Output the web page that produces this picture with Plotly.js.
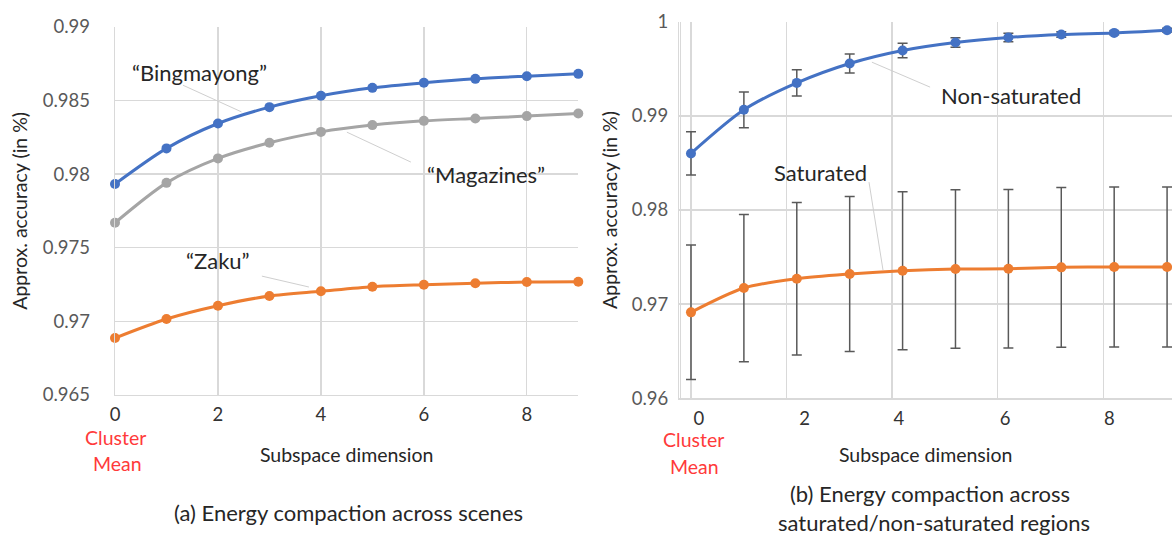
<!DOCTYPE html>
<html>
<head>
<meta charset="utf-8">
<script src="https://cdn.plot.ly/plotly-3.0.1.min.js"></script>
<style>
  html, body { margin: 0; padding: 0; background: #ffffff; }
  #chart { width: 1172px; height: 535px; }
</style>
</head>
<body>
<div id="chart"></div>
<script>
// ---------- data ----------
const subspaceDims = [0, 1, 2, 3, 4, 5, 6, 7, 8, 9];

// (a) energy compaction across scenes
const bingmayong = [0.97932, 0.98174, 0.98343, 0.98454, 0.98531, 0.98585, 0.98619, 0.98646, 0.98664, 0.98680];
const magazines  = [0.97669, 0.97940, 0.98106, 0.98212, 0.98286, 0.98332, 0.98361, 0.98377, 0.98393, 0.98411];
const zaku       = [0.96887, 0.97016, 0.97106, 0.97172, 0.97204, 0.97235, 0.97248, 0.97258, 0.97267, 0.97269];

// (b) energy compaction across saturated / non-saturated regions
const nonSaturated    = [0.98601, 0.99064, 0.99350, 0.99556, 0.99694, 0.99779, 0.99832, 0.99864, 0.99881, 0.99910];
const nonSaturatedErr = [0.00230, 0.00190, 0.00140, 0.00100, 0.00078, 0.00050, 0.00045, 0.00030, 0.00020, 0.00020];
const saturated       = [0.96913, 0.97171, 0.97270, 0.97320, 0.97355, 0.97373, 0.97376, 0.97391, 0.97394, 0.97394];
const saturatedErr    = [0.00714, 0.00782, 0.00810, 0.00824, 0.00840, 0.00842, 0.00842, 0.00849, 0.00849, 0.00849];

// tick labels
const leftYTickVals  = [0.965, 0.97, 0.975, 0.98, 0.985, 0.99];
const leftYTickText  = ['0.965', '0.97', '0.975', '0.98', '0.985', '0.99'];
const rightYTickVals = [0.96, 0.97, 0.98, 0.99, 1];
const rightYTickText = ['0.96', '0.97', '0.98', '0.99', '1'];
const xTickText      = ['0', '2', '4', '6', '8'];

// ---------- style ----------
const FONT = 'Lato, "Noto Sans", sans-serif';
const BLUE = '#4472C4', GRAY = '#A5A5A5', ORANGE = '#ED7D31';
const GRID = '#d9d9d9';
const TICKCOL = '#595959';
const TEXTCOL = '#262626';
const RED = '#ff3a3a';
const LEADER = '#cfcfcf';

function lineTrace(y, color, name, xa, ya, err) {
  const t = {
    x: subspaceDims, y: y, name: name, xaxis: xa, yaxis: ya,
    type: 'scatter', mode: 'lines+markers',
    line: { color: color, width: 3, shape: 'spline', smoothing: 0.8 },
    marker: { color: color, size: 10 },
    cliponaxis: false, showlegend: false
  };
  if (err) {
    t.error_y = { type: 'data', array: err, visible: true, color: '#595959', thickness: 1.5, width: 5 };
  }
  return t;
}

const data = [
  lineTrace(magazines, GRAY, '“Magazines”', 'x', 'y'),
  lineTrace(zaku, ORANGE, '“Zaku”', 'x', 'y'),
  lineTrace(bingmayong, BLUE, '“Bingmayong”', 'x', 'y'),
  lineTrace(saturated, ORANGE, 'Saturated', 'x2', 'y2', saturatedErr),
  lineTrace(nonSaturated, BLUE, 'Non-saturated', 'x2', 'y2', nonSaturatedErr)
];

const W = 1172, H = 535, MT = 21, MB = 136;
const PH = H - MT - MB;
const px = v => v / W;
const py = v => (H - MB - v) / PH;

const tickFont = { family: FONT, size: 18.5, color: TICKCOL };
const xTickFont = { family: FONT, size: 18.5, color: '#333333' };
const titleFont = { family: FONT, size: 19.5, color: TEXTCOL };
const labelFont = { family: FONT, size: 22, color: TEXTCOL };
const redFont = { family: FONT, size: 19.5, color: RED };
const capFont = { family: FONT, size: 22, color: TEXTCOL };

function txt(x, y, text, font) {
  return { xref: 'paper', yref: 'paper', x: px(x), y: py(y), xanchor: 'center', yanchor: 'middle',
           text: text, showarrow: false, font: font, borderpad: 0 };
}
function dataTxt(xr, yr, x, y, text) {
  return { xref: xr, yref: yr, x: x, y: y, xanchor: 'center', yanchor: 'middle',
           text: text, showarrow: false, font: labelFont };
}
function leader(xr, yr, x0, y0, x1, y1) {
  return { type: 'line', xref: xr, yref: yr, x0: x0, y0: y0, x1: x1, y1: y1, line: { color: LEADER, width: 1 } };
}

const layout = {
  width: W, height: H,
  margin: { l: 0, r: 0, t: MT, b: MB },
  paper_bgcolor: '#ffffff', plot_bgcolor: '#ffffff',
  font: { family: FONT, color: TEXTCOL },
  showlegend: false,
  xaxis: {
    domain: [px(115), px(578.3)], anchor: 'y',
    range: [0, 9], tick0: 0, dtick: 2,
    showgrid: true, gridcolor: GRID, gridwidth: 1.3,
    zeroline: false, showline: true, linecolor: GRID, linewidth: 1.3,
    ticks: '', tickfont: xTickFont, ticklabelstandoff: 2,
    title: { text: 'Subspace dimension', font: titleFont, standoff: 24 }
  },
  yaxis: {
    domain: [py(395), py(26.7)], anchor: 'x',
    range: [0.965, 0.99], tickvals: leftYTickVals, ticktext: leftYTickText,
    showgrid: true, gridcolor: GRID, gridwidth: 1.3,
    zeroline: false, showline: true, linecolor: GRID, linewidth: 1.3,
    ticks: '', tickfont: tickFont, ticklabelstandoff: 20,
    title: { text: 'Approx. accuracy (in %)', font: titleFont, standoff: 10 }
  },
  xaxis2: {
    domain: [px(679.3), 1], anchor: 'y2',
    range: [-0.221, 9.093],
    tickmode: 'array', tickvals: [0.15, 2.15, 3.93, 5.94, 7.91], ticktext: xTickText,
    showgrid: false,
    minor: { tickmode: 'linear', tick0: -0.2, dtick: 2, showgrid: true, gridcolor: GRID, gridwidth: 1.3, ticks: '' },
    zeroline: true, zerolinecolor: GRID, zerolinewidth: 1.3,
    showline: true, linecolor: GRID, linewidth: 1.3,
    ticks: '', tickfont: xTickFont, ticklabelstandoff: 3,
    title: { text: 'Subspace dimension', font: titleFont, standoff: 20 }
  },
  yaxis2: {
    domain: [py(398.3), py(21.7)], anchor: 'x2',
    range: [0.96, 1.0], tickvals: rightYTickVals, ticktext: rightYTickText,
    showgrid: true, gridcolor: GRID, gridwidth: 1.3,
    zeroline: false, showline: true, linecolor: GRID, linewidth: 1.3,
    ticks: '', tickfont: tickFont, ticklabelstandoff: 6,
    title: { text: 'Approx. accuracy (in %)', font: titleFont, standoff: 9 }
  },
  shapes: [
    leader('x', 'y', 1.32, 0.98603, 2.456, 0.98422),
    leader('x', 'y', 4.505, 0.98284, 5.748, 0.98081),
    leader('x', 'y', 2.854, 0.97307, 3.767, 0.97233),
    leader('x2', 'y2', 3.42, 0.9957, 4.52, 0.99305),
    leader('x2', 'y2', 3.365, 0.98296, 3.63, 0.97362)
  ],
  annotations: [
    dataTxt('x', 'y', 1.65, 0.98691, '“Bingmayong”'),
    dataTxt('x', 'y', 7.20, 0.97999, '“Magazines”'),
    dataTxt('x', 'y', 2.0, 0.97416, '“Zaku”'),
    dataTxt('x2', 'y2', 6.05, 0.9922, 'Non-saturated'),
    dataTxt('x2', 'y2', 2.457, 0.98402, 'Saturated'),

    txt(115, 437, 'Cluster', redFont),
    txt(117, 463, 'Mean', redFont),
    txt(693, 440, 'Cluster', redFont),
    txt(694, 466, 'Mean', redFont),

    txt(348, 512, '(a) Energy compaction across scenes', capFont),
    txt(930, 493, '(b) Energy compaction across', capFont),
    txt(934, 522, 'saturated/non-saturated regions', capFont)
  ]
};

Plotly.newPlot('chart', data, layout, { displayModeBar: false, staticPlot: true });
</script>
</body>
</html>
